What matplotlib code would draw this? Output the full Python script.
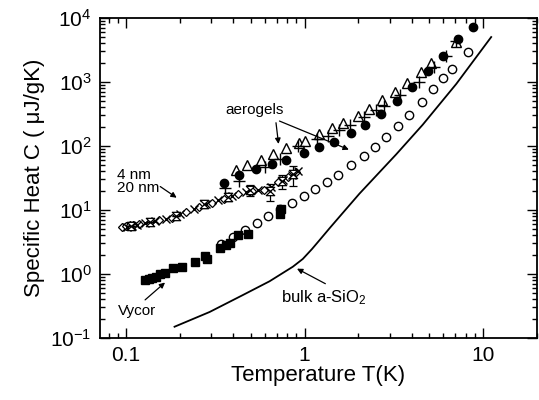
import matplotlib
matplotlib.use("Agg")
import matplotlib.pyplot as plt
from matplotlib.path import Path
from matplotlib.ticker import LogLocator, FixedLocator, FixedFormatter, NullFormatter

plt.rcParams['font.family'] = ['Liberation Sans', 'DejaVu Sans']
plt.rcParams['mathtext.fontset'] = 'custom'
plt.rcParams['mathtext.rm'] = 'Liberation Sans'
plt.rcParams['mathtext.it'] = 'Liberation Sans:italic'

# bulk a-SiO2 (solid line)
bulk_T = [0.187, 0.294, 0.452, 0.637, 0.860, 0.978, 1.10, 1.21, 1.39, 1.57, 2.03,
          2.63, 3.26, 4.59, 7.08, 11.1]
bulk_C = [0.150, 0.255, 0.470, 0.770, 1.30, 1.72, 2.45, 3.35, 5.3, 7.86, 18.0,
          39, 74, 215, 935, 5040]

# open circles
oc_T = [0.342, 0.397, 0.462, 0.542, 0.623, 0.725, 0.851, 0.991, 1.14, 1.33, 1.54,
        1.83, 2.14, 2.48, 2.87, 3.34, 3.84, 4.52, 5.22, 5.96, 6.71, 8.20]
oc_C = [2.94, 3.83, 4.87, 6.33, 8.05, 10.2, 12.9, 16.3, 21.1, 27.7, 35.2,
        51, 71, 98, 138, 205, 305, 492, 764, 1142, 1614, 2973]

# Vycor (filled squares)
vy_T = [0.127, 0.134, 0.139, 0.147, 0.156, 0.165, 0.183, 0.205, 0.242, 0.276, 0.286,
        0.334, 0.361, 0.380, 0.422, 0.480, 0.725, 0.734]
vy_C = [0.806, 0.835, 0.866, 0.898, 0.99, 1.04, 1.22, 1.30, 1.56, 1.91, 1.70,
        2.58, 2.84, 3.08, 4.0, 4.22, 8.8, 10.2]

# aerogels: open triangles
tri_T = [0.415, 0.475, 0.573, 0.665, 0.790, 0.926, 1.0, 1.21, 1.43, 1.65, 1.99,
         2.31, 2.72, 3.22, 3.76, 4.50, 5.12, 7.06]
tri_C = [42.2, 50.5, 60.4, 75, 92, 110, 120, 152, 189, 231, 294,
         374, 523, 705, 975, 1449, 2004, 4170]

# aerogels: filled circles
fc_T = [0.353, 0.427, 0.532, 0.656, 0.790, 0.987, 1.21, 1.47, 1.83, 2.19, 2.69,
        3.28, 4.01, 4.90, 6.00, 7.21, 8.75]
fc_C = [26.7, 35.2, 43.3, 51.8, 60.4, 78.6, 97.5, 117, 161, 213, 316,
        510, 826, 1486, 2576, 4645, 7310]

# aerogels: plus
pl_T = [0.357, 0.427, 0.597, 0.725, 0.914, 1.18, 1.35, 1.55, 1.79, 2.14, 2.50,
        2.77, 3.44, 4.35, 5.34, 6.23, 7.09]
pl_C = [22.1, 28.9, 47.8, 62.6, 100, 129, 143, 178, 213, 279, 365,
        422, 626, 1000, 1715, 2548, 4370]

# 4 nm / 20 nm samples
dm_T = [0.095, 0.100, 0.105, 0.110, 0.119, 0.136, 0.154, 0.180, 0.216, 0.258, 0.302,
        0.352, 0.422, 0.505, 0.590, 0.706, 0.804, 0.891]
dm_C = [5.4, 5.6, 5.8, 5.9, 6.0, 6.5, 7.0, 7.5, 9.3, 11.1, 12.9,
        14.9, 17.8, 19.8, 20.5, 27.4, 32.8, 39.2]

xx_T = [0.101, 0.108, 0.115, 0.127, 0.145, 0.167, 0.200, 0.239, 0.279, 0.326, 0.390,
        0.468, 0.546, 0.645, 0.753, 0.846, 0.914]
xx_C = [5.4, 5.6, 5.8, 6.3, 6.7, 7.2, 8.7, 10.4, 12.4, 14.3, 16.5,
        19.1, 20.5, 22.9, 29.4, 35.2, 40.7]

hg_T = [0.106, 0.136, 0.190, 0.272, 0.371, 0.492, 0.637, 0.743, 0.857]
hg_C = [5.6, 6.5, 8.1, 12.4, 16.0, 20.5, 19.8, 28.4, 36.5]
hg_err = [0.0, 0.0, 0.0, 0.12, 0.15, 0.18, 0.30, 0.25, 0.35]

hourglass = Path([(-1, 1), (1, 1), (-1, -1), (1, -1), (-1, 1)],
                 [Path.MOVETO, Path.LINETO, Path.LINETO, Path.LINETO, Path.CLOSEPOLY])

fig = plt.figure(figsize=(5.39, 4.0), dpi=100)
ax = fig.add_axes([0.1855, 0.155, 0.8105, 0.80])

ax.plot(bulk_T, bulk_C, color='black', lw=1.3)
ax.plot(oc_T, oc_C, 'o', mfc='white', mec='black', ms=6, mew=1.0)
ax.plot(vy_T, vy_C, 's', color='black', ms=5.5)
ax.plot(tri_T, tri_C, '^', mfc='white', mec='black', ms=7, mew=1.0)
ax.plot(pl_T, pl_C, '+', color='black', ms=8, mew=1.0)
ax.plot(fc_T, fc_C, 'o', color='black', ms=6)

ax.plot(dm_T, dm_C, 'D', mfc='white', mec='black', ms=4.5, mew=0.9)
ax.plot(xx_T, xx_C, 'x', color='black', ms=6, mew=1.0)
hg_lo = [c * e for c, e in zip(hg_C, hg_err)]
ax.errorbar(hg_T, hg_C, yerr=[hg_lo, hg_lo], fmt='none', ecolor='black',
            elinewidth=0.9, capsize=3, capthick=0.9)
ax.plot(hg_T, hg_C, marker=hourglass, ls='none', mfc='white', mec='black',
        ms=6, mew=0.9)

ax.set_xscale('log')
ax.set_yscale('log')
ax.set_xlim(0.0715, 20)
ax.set_ylim(0.1, 1e4)

ax.xaxis.set_major_locator(FixedLocator([0.1, 1, 10]))
ax.xaxis.set_major_formatter(FixedFormatter(['0.1', '1', '10']))
ax.xaxis.set_minor_locator(LogLocator(base=10, subs=range(2, 10)))
ax.xaxis.set_minor_formatter(NullFormatter())
ax.yaxis.set_major_locator(LogLocator(base=10, numticks=10))
ax.yaxis.set_minor_locator(LogLocator(base=10, subs=range(2, 10), numticks=10))
ax.yaxis.set_minor_formatter(NullFormatter())

ax.tick_params(which='both', direction='in', top=True, right=True, labelsize=15, width=1.0)
ax.tick_params(which='major', length=7, pad=6)
ax.tick_params(which='minor', length=3.5)
for s in ax.spines.values():
    s.set_linewidth(1.3)

ax.set_xlabel('Temperature T(K)', fontsize=16, labelpad=0)
ax.set_ylabel('Specific Heat C ( \u03bcJ/gK)', fontsize=16, labelpad=4)

arrow = dict(arrowstyle='-|>', color='black', lw=0.9, mutation_scale=8)
ax.text(0.525, 365, 'aerogels', fontsize=11, ha='center', va='center')
ax.annotate('', xy=(0.718, 97.5), xytext=(0.689, 255), arrowprops=arrow)
ax.annotate('', xy=(1.83, 84.5), xytext=(0.70, 255), arrowprops=arrow)

ax.text(0.0887, 35, '4 nm', fontsize=11, ha='left', va='center')
ax.text(0.0887, 21.8, '20 nm', fontsize=11, ha='left', va='center')
ax.annotate('', xy=(0.198, 14.7), xytext=(0.151, 24.6), arrowprops=arrow)

ax.text(0.1155, 0.267, 'Vycor', fontsize=11, ha='center', va='center')
ax.annotate('', xy=(0.170, 0.786), xytext=(0.1245, 0.369), arrowprops=arrow)

ax.text(0.741, 0.42, 'bulk a-SiO$_2$', fontsize=12, ha='left', va='center')
ax.annotate('', xy=(0.879, 1.27), xytext=(1.35, 0.673), arrowprops=arrow)

fig.savefig('out.png', dpi=100)
